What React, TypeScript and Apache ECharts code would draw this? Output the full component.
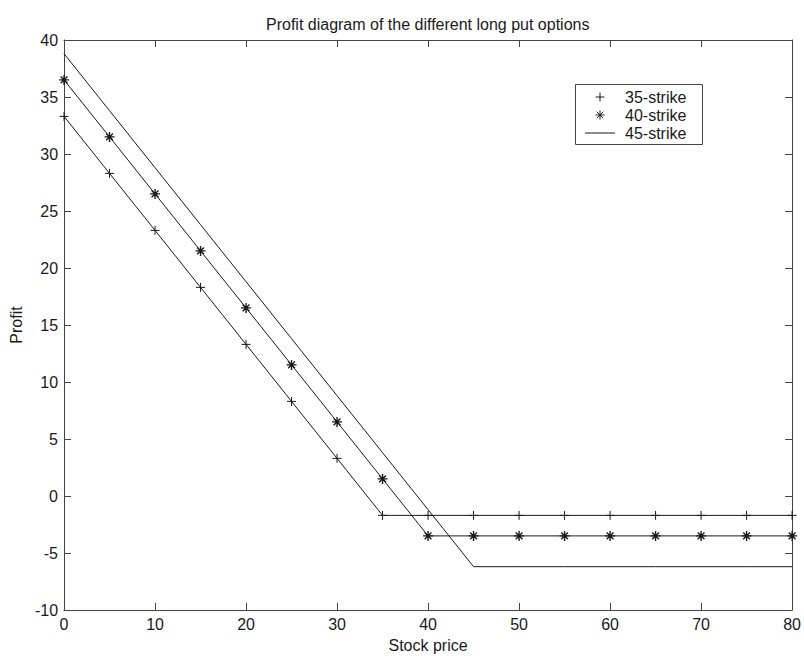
import React, { useEffect, useRef } from "react";
import * as echarts from "echarts";

const stockPrice = [0, 5, 10, 15, 20, 25, 30, 35, 40, 45, 50, 55, 60, 65, 70, 75, 80];
const profit35 = [33.3, 28.3, 23.3, 18.3, 13.3, 8.3, 3.3, -1.7, -1.7, -1.7, -1.7, -1.7, -1.7, -1.7, -1.7, -1.7, -1.7];
const profit40 = [36.5, 31.5, 26.5, 21.5, 16.5, 11.5, 6.5, 1.5, -3.5, -3.5, -3.5, -3.5, -3.5, -3.5, -3.5, -3.5, -3.5];
const profit45 = [38.8, 33.8, 28.8, 23.8, 18.8, 13.8, 8.8, 3.8, -1.2, -6.2, -6.2, -6.2, -6.2, -6.2, -6.2, -6.2, -6.2];
const seriesNames = ["35-strike", "40-strike", "45-strike"];
const titleText = "Profit diagram of the different long put options";
const xName = "Stock price";
const yName = "Profit";

const FONT = "'Liberation Sans', Arial, Helvetica, sans-serif";
const INK = "#1a1a1a";
const AXIS = "#444";
const PLUS = "path://M5,0L5,10M0,5L10,5";
const STAR = "path://M5,0L5,10M0,5L10,5M1.6,1.6L8.4,8.4M8.4,1.6L1.6,8.4";

const pairs = (ys: number[]) => stockPrice.map((x, i) => [x, ys[i]]);

export default function App() {
  const ref = useRef<HTMLDivElement>(null);
  useEffect(() => {
    if (!ref.current) return;
    const chart = echarts.init(ref.current, undefined, { renderer: "svg" });
    const axisCommon = {
      axisLine: { onZero: false, lineStyle: { color: AXIS, width: 1 } },
      axisTick: { inside: true, length: 7, lineStyle: { color: AXIS, width: 1 } },
      splitLine: { show: false },
    };
    const labelStyle = { color: INK, fontSize: 16, fontFamily: FONT };
    const lx = 600;
    const lines = (cx: number, cy: number, r: number, star: boolean) => {
      const segs: any[] = [
        { type: "line", shape: { x1: cx - r, y1: cy, x2: cx + r, y2: cy }, style: { stroke: INK, lineWidth: 1 } },
        { type: "line", shape: { x1: cx, y1: cy - r, x2: cx, y2: cy + r }, style: { stroke: INK, lineWidth: 1 } },
      ];
      if (star) {
        const d = r * 0.72;
        segs.push({ type: "line", shape: { x1: cx - d, y1: cy - d, x2: cx + d, y2: cy + d }, style: { stroke: INK, lineWidth: 1 } });
        segs.push({ type: "line", shape: { x1: cx + d, y1: cy - d, x2: cx - d, y2: cy + d }, style: { stroke: INK, lineWidth: 1 } });
      }
      return segs;
    };
    const rowY = [97, 115, 133];
    chart.setOption({
      animation: false,
      backgroundColor: "#fff",
      title: {
        text: titleText,
        left: 261,
        top: 11,
        textStyle: { color: INK, fontSize: 16, fontWeight: "normal", fontFamily: FONT },
      },
      grid: { left: 60, top: 40, width: 735.5, height: 577, containLabel: false },
      xAxis: [
        {
          type: "value",
          min: 0,
          max: 80,
          interval: 10,
          position: "bottom",
          ...axisCommon,
          axisLabel: { ...labelStyle, margin: 6 },
          name: xName,
          nameLocation: "middle",
          nameGap: 27,
          nameTextStyle: labelStyle,
        },
        {
          type: "value",
          min: 0,
          max: 80,
          interval: 10,
          position: "top",
          ...axisCommon,
          axisLabel: { show: false },
        },
      ],
      yAxis: [
        {
          type: "value",
          min: -10,
          max: 40,
          interval: 5,
          position: "left",
          ...axisCommon,
          axisLabel: { ...labelStyle, margin: 6 },
          name: yName,
          nameLocation: "middle",
          nameGap: 33,
          nameTextStyle: labelStyle,
        },
        {
          type: "value",
          min: -10,
          max: 40,
          interval: 5,
          position: "right",
          ...axisCommon,
          axisLabel: { show: false },
        },
      ],
      series: [
        {
          name: seriesNames[0],
          type: "line",
          data: pairs(profit35),
          symbol: PLUS,
          symbolSize: 9,
          showAllSymbol: true,
          lineStyle: { color: INK, width: 1 },
          itemStyle: { color: INK, borderColor: INK, borderWidth: 1 },
        },
        {
          name: seriesNames[1],
          type: "line",
          data: pairs(profit40),
          symbol: STAR,
          symbolSize: 10,
          showAllSymbol: true,
          lineStyle: { color: INK, width: 1 },
          itemStyle: { color: INK, borderColor: INK, borderWidth: 1.4 },
        },
        {
          name: seriesNames[2],
          type: "line",
          data: pairs(profit45),
          symbol: "none",
          lineStyle: { color: INK, width: 1 },
          itemStyle: { color: INK },
        },
      ],
      graphic: [
        {
          type: "rect",
          shape: { x: 575.5, y: 84.5, width: 127, height: 60 },
          style: { fill: "#fff", stroke: AXIS, lineWidth: 1 },
          z: 100,
        },
        ...lines(lx, rowY[0], 4.5, false).map((g) => ({ ...g, z: 101 })),
        ...lines(lx, rowY[1], 4.5, true).map((g) => ({ ...g, z: 101 })),
        {
          type: "line",
          shape: { x1: 585, y1: rowY[2], x2: 615, y2: rowY[2] },
          style: { stroke: INK, lineWidth: 1 },
          z: 101,
        },
        ...seriesNames.map((n, i) => ({
          type: "text",
          x: 625,
          y: rowY[i],
          z: 101,
          style: { text: n, fill: INK, fontSize: 16, fontFamily: FONT, verticalAlign: "middle" },
        })),
      ],
    });
    return () => chart.dispose();
  }, []);
  return (
    <div
      ref={ref}
      style={{ position: "fixed", left: 0, top: 0, width: 804, height: 658, background: "#fff" }}
    />
  );
}
